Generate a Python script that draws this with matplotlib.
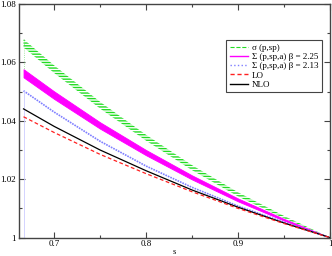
import matplotlib
matplotlib.use("Agg")
import matplotlib.pyplot as plt
from matplotlib.lines import Line2D
from matplotlib.ticker import FormatStrFormatter, MultipleLocator

# values
s = [0.6667, 0.70, 0.75, 0.80, 0.85, 0.90, 0.95, 1.00]
sigma_hi = [1.0680, 1.0590, 1.0465, 1.0352, 1.0248, 1.0155, 1.0074, 1.0]
sigma_lo = [1.0652, 1.0564, 1.0442, 1.0332, 1.0231, 1.0141, 1.0066, 1.0]
big225_hi = [1.0577, 1.0501, 1.0395, 1.0300, 1.0213, 1.0134, 1.0064, 1.0]
big225_lo = [1.0549, 1.0475, 1.0373, 1.0282, 1.0199, 1.0124, 1.0058, 1.0]
big213 = [1.0503, 1.0430, 1.0330, 1.0245, 1.0172, 1.0108, 1.0052, 1.0]
nlo = [1.0441, 1.0381, 1.0300, 1.0229, 1.0163, 1.0104, 1.0050, 1.0]
lo = [1.0414, 1.0360, 1.0285, 1.0219, 1.0157, 1.0100, 1.0048, 1.0]

labels = ['σ (p,sp)', 'Σ (p,sp,a) β = 2.25', 'Σ (p,sp,a) β = 2.13', 'LO', 'NLO']

plt.rcParams['font.family'] = ['Liberation Serif', 'DejaVu Serif']
plt.rcParams['hatch.linewidth'] = 1.0
plt.rcParams['hatch.color'] = '#22dd22'

fig = plt.figure(figsize=(3.32, 2.56), dpi=100)
ax = fig.add_axes([0.057, 0.072, 0.937, 0.912])

# green hatched band
ax.fill_between(s, sigma_lo, sigma_hi, facecolor='none', edgecolor='#22dd22',
                hatch='------', linewidth=0)
ax.plot([s[0], s[0]], [sigma_hi[0], big225_hi[0]], color='#88dd88', lw=0.6, ls=':')

# magenta band
ax.fill_between(s, big225_lo, big225_hi, color='#ff00ff', linewidth=0.6)

# blue dotted
ax.plot(s, big213, color='#7f7fff', lw=1.2, ls=(0, (1, 0.6)))
ax.plot([s[0], s[0]], [big213[0], 1.0], color='#ccccff', lw=0.6)

ax.plot(s, nlo, color='black', lw=0.9)
ax.plot(s, lo, color='#ff2020', lw=0.9, dashes=(3, 2))

ax.set_xlim(0.6617, 1.0)
ax.set_ylim(1.0, 1.08)
ax.xaxis.set_major_locator(MultipleLocator(0.1))
ax.xaxis.set_minor_locator(MultipleLocator(0.05))
ax.yaxis.set_major_locator(MultipleLocator(0.02))
ax.yaxis.set_minor_locator(MultipleLocator(0.01))
ax.xaxis.set_major_formatter(FormatStrFormatter('%g'))
ax.yaxis.set_major_formatter(FormatStrFormatter('%g'))
ax.tick_params(which='both', direction='in', top=True, right=True,
               labelsize=6.5, color='#444444', width=0.8, pad=2)
ax.tick_params(which='major', length=4)
ax.tick_params(which='minor', length=2)
for sp in ax.spines.values():
    sp.set_color('#444444')
    sp.set_linewidth(1.0)

ax.set_xlabel('s', fontsize=6, labelpad=0)

handles = [
    Line2D([], [], color='#22dd22', lw=0.8, ls='--'),
    Line2D([], [], color='#ff00ff', lw=1.0),
    Line2D([], [], color='#7f7fff', lw=1.0, ls=':'),
    Line2D([], [], color='#ff2020', lw=1.0, dashes=(3, 2)),
    Line2D([], [], color='black', lw=1.0),
]
leg = ax.legend(handles, labels, loc='upper right', bbox_to_anchor=(0.975, 0.846),
                borderaxespad=0, fontsize=6.5, labelspacing=0.1, handlelength=2.0,
                handletextpad=0.5, borderpad=0.4, fancybox=False, framealpha=1)
leg.get_frame().set_edgecolor('#444444')
leg.get_frame().set_linewidth(0.8)

fig.savefig('out.png', dpi=100)
